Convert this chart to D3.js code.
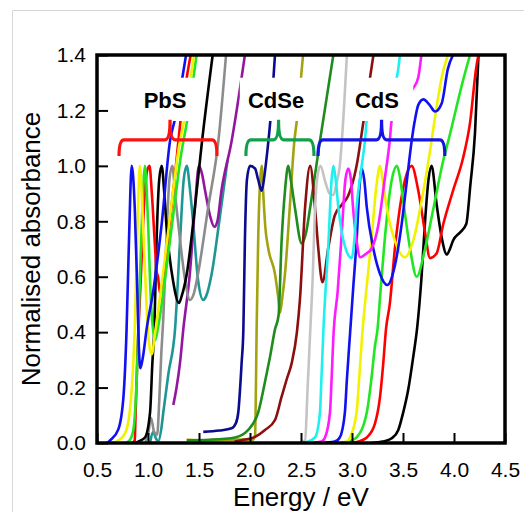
<!DOCTYPE html>
<html>
<head>
<meta charset="utf-8">
<script src="https://cdn.jsdelivr.net/npm/d3@7"></script>
<style>
  body { margin: 0; background: #fff; }
  svg text { font-family: Arial, "Liberation Sans", sans-serif; fill: #000; }
</style>
</head>
<body>
<div id="chart"></div>
<script>
// spectra: [energy eV, normalised absorbance]
const pbsBlue = [[0.60,0],[0.63,0.01],[0.71,0.05],[0.76,0.17],[0.79,0.41],[0.815,0.75],[0.84,1.0],[0.87,0.85],[0.895,0.55],[0.91,0.35],[0.925,0.27],[0.95,0.31],[0.986,0.41],[1.052,0.55],[1.134,0.79],[1.216,1.09],[1.265,1.17],[1.373,1.4]];
const pbsYellow = [[0.66,0],[0.69,0.005],[0.775,0.035],[0.82,0.11],[0.856,0.29],[0.87,0.41],[0.895,0.75],[0.92,1.0],[0.95,0.8],[0.985,0.5],[1.01,0.36],[1.036,0.32],[1.07,0.40],[1.15,0.62],[1.23,0.86],[1.30,1.06],[1.356,1.166],[1.45,1.4]];
const pbsLime = [[0.78,0],[0.82,0.01],[0.856,0.047],[0.889,0.23],[0.905,0.41],[0.935,0.75],[0.97,1.0],[1.0,0.8],[1.03,0.5],[1.069,0.37],[1.10,0.42],[1.17,0.6],[1.25,0.83],[1.32,1.03],[1.385,1.166],[1.476,1.4]];
const pbsRed = [[0.85,0],[0.87,0.01],[0.878,0.1],[0.895,0.3],[0.93,0.6],[0.96,0.85],[0.99,0.98],[1.015,1.0],[1.036,0.91],[1.07,0.70],[1.084,0.62],[1.098,0.60],[1.118,0.54],[1.145,0.58],[1.20,0.75],[1.26,0.95],[1.32,1.166],[1.418,1.4]];
const pbsBlack = [[0.88,0],[0.905,0.005],[0.97,0.02],[1.02,0.11],[1.043,0.29],[1.062,0.41],[1.084,0.73],[1.11,0.95],[1.134,1.0],[1.16,0.9],[1.18,0.79],[1.248,0.58],[1.304,0.505],[1.33,0.53],[1.38,0.61],[1.46,0.85],[1.53,1.09],[1.634,1.4]];
const pbsGray = [[0.97,0],[1.0,0.03],[1.03,0.09],[1.06,0.04],[1.09,0.03],[1.11,0.15],[1.13,0.32],[1.15,0.45],[1.18,0.73],[1.21,0.95],[1.238,1.0],[1.27,0.88],[1.297,0.79],[1.363,0.59],[1.41,0.516],[1.45,0.54],[1.49,0.61],[1.59,0.85],[1.69,1.09],[1.765,1.4]];
const pbsTeal = [[1.02,0],[1.05,0.04],[1.08,0.015],[1.10,0.005],[1.13,0.05],[1.15,0.11],[1.20,0.25],[1.265,0.41],[1.314,0.73],[1.35,0.95],[1.38,1.0],[1.41,0.92],[1.444,0.79],[1.49,0.59],[1.542,0.516],[1.57,0.53],[1.624,0.61],[1.706,0.82],[1.78,1.02]];
const pbsPurple = [[1.248,0.137],[1.28,0.2],[1.314,0.29],[1.346,0.41],[1.41,0.61],[1.46,0.85],[1.5,1.0],[1.53,0.97],[1.56,0.91],[1.608,0.82],[1.65,0.78],[1.68,0.80],[1.72,0.91],[1.82,1.09],[1.95,1.4]];

const cdseNavy = [[1.542,0.04],[1.7,0.045],[1.82,0.053],[1.86,0.07],[1.885,0.11],[1.918,0.29],[1.935,0.41],[1.95,0.73],[1.97,0.95],[2.0,1.0],[2.05,0.99],[2.08,0.95],[2.115,0.91],[2.14,0.96],[2.163,1.03],[2.20,1.166],[2.245,1.4]];
const cdseOlive = [[1.38,0.012],[1.6,0.01],[1.85,0.012],[2.03,0.012],[2.05,0.03],[2.058,0.2],[2.065,0.41],[2.08,0.73],[2.10,0.95],[2.115,1.0],[2.13,0.9],[2.15,0.78],[2.18,0.70],[2.245,0.61],[2.275,0.53],[2.294,0.47],[2.315,0.52],[2.343,0.61],[2.39,0.85],[2.435,1.09],[2.46,1.166],[2.52,1.4]];
const cdseGreen = [[1.38,0.01],[1.6,0.012],[1.853,0.02],[1.983,0.047],[2.08,0.11],[2.163,0.25],[2.196,0.31],[2.245,0.41],[2.28,0.46],[2.31,0.73],[2.343,0.91],[2.375,1.0],[2.40,0.95],[2.44,0.85],[2.507,0.72],[2.55,0.76],[2.59,0.85],[2.686,1.09],[2.817,1.4]];
const cdseLightGray = [[2.48,0],[2.54,0.01],[2.565,0.2],[2.59,0.4],[2.615,0.6],[2.635,0.82],[2.66,0.96],[2.69,1.0],[2.74,0.94],[2.78,0.9],[2.817,0.895],[2.85,0.94],[2.88,1.0],[2.92,1.2],[2.95,1.4]];
const cdseBrown = [[1.85,0.005],[1.92,0.01],[2.05,0.022],[2.147,0.047],[2.245,0.083],[2.31,0.167],[2.36,0.23],[2.41,0.29],[2.46,0.40],[2.49,0.52],[2.54,0.85],[2.59,1.0],[2.637,0.85],[2.67,0.70],[2.71,0.58],[2.77,0.71],[2.83,0.82],[2.90,0.86],[2.96,0.89],[3.045,1.0],[3.11,1.154],[3.21,1.4]];

const cdsCyan = [[2.50,0],[2.555,0.003],[2.637,0.02],[2.686,0.11],[2.70,0.23],[2.72,0.41],[2.77,0.73],[2.80,0.95],[2.817,1.0],[2.84,0.95],[2.866,0.85],[2.93,0.71],[2.997,0.667],[3.02,0.72],[3.045,0.85],[3.095,1.0],[3.127,1.09],[3.145,1.166],[3.25,1.24],[3.38,1.28],[3.44,1.32],[3.47,1.4]];
const cdsMagenta = [[2.60,0],[2.70,0.005],[2.735,0.02],[2.784,0.11],[2.80,0.23],[2.817,0.38],[2.86,0.55],[2.90,0.76],[2.935,0.95],[2.964,0.99],[2.99,0.95],[3.01,0.85],[3.045,0.73],[3.08,0.67],[3.145,0.685],[3.19,0.70],[3.26,0.79],[3.32,0.95],[3.37,1.09],[3.39,1.166],[3.50,1.24],[3.60,1.28],[3.65,1.32],[3.68,1.4]];
const cdsBlue = [[2.70,0],[2.83,0.005],[2.88,0.02],[2.93,0.11],[2.95,0.23],[2.98,0.39],[3.01,0.55],[3.045,0.73],[3.075,0.93],[3.095,0.99],[3.12,0.95],[3.145,0.85],[3.21,0.70],[3.275,0.61],[3.346,0.57],[3.42,0.64],[3.487,0.79],[3.536,0.94],[3.585,1.09],[3.617,1.166],[3.65,1.22],[3.70,1.24],[3.76,1.22],[3.814,1.196],[3.88,1.226],[3.94,1.35],[3.99,1.4]];
const cdsYellow = [[2.85,0],[2.95,0.005],[2.98,0.02],[3.045,0.11],[3.07,0.23],[3.10,0.39],[3.14,0.55],[3.19,0.73],[3.24,0.93],[3.275,1.0],[3.30,0.95],[3.34,0.85],[3.42,0.73],[3.52,0.67],[3.60,0.73],[3.70,0.91],[3.78,1.09],[3.81,1.166],[3.88,1.32],[3.94,1.4]];
const cdsLime = [[2.95,0],[3.0,0.01],[3.045,0.02],[3.145,0.11],[3.19,0.23],[3.225,0.35],[3.25,0.41],[3.28,0.55],[3.32,0.73],[3.39,0.95],[3.44,1.0],[3.47,0.96],[3.50,0.88],[3.57,0.70],[3.634,0.60],[3.716,0.70],[3.80,0.85],[3.895,1.02],[3.944,1.09],[4.09,1.31],[4.157,1.4]];
const cdsRed = [[3.0,0],[3.1,0.01],[3.145,0.02],[3.225,0.07],[3.275,0.167],[3.307,0.29],[3.333,0.41],[3.37,0.50],[3.42,0.70],[3.47,0.85],[3.52,0.95],[3.585,1.0],[3.65,0.91],[3.716,0.76],[3.765,0.667],[3.83,0.685],[3.895,0.79],[3.99,0.91],[4.09,1.03],[4.157,1.155],[4.22,1.36],[4.24,1.4]];
const cdsBlack = [[3.2,0],[3.3,0.005],[3.39,0.017],[3.454,0.047],[3.50,0.107],[3.55,0.19],[3.60,0.31],[3.64,0.42],[3.68,0.59],[3.72,0.82],[3.75,0.95],[3.78,1.0],[3.83,0.86],[3.88,0.74],[3.93,0.68],[3.96,0.70],[3.99,0.73],[4.06,0.76],[4.12,0.79],[4.16,0.93],[4.206,1.12],[4.24,1.4]];

// material groups: label, bracket span (eV), brace tip (eV), label centre (eV), masked span (eV)
const groupNames = ["PbS", "CdSe", "CdS"];
const groupSpans = [[0.716, 1.676], [1.96, 2.627], [2.667, 3.91]];
const groupTips = [1.216, 2.28, 3.29];
const groupLabelAt = [1.167, 2.255, 3.245];
const groupMasks = [[0.775, 1.53], [1.90, 2.667], [2.97, 3.6]];

const xTicks = [0.5, 1.0, 1.5, 2.0, 2.5, 3.0, 3.5, 4.0, 4.5];
const yTicks = [0, 0.2, 0.4, 0.6, 0.8, 1.0, 1.2, 1.4];

const spectra = [
  {points: pbsTeal, color: "#1f9696"},
  {points: pbsPurple, color: "#9416a0"},
  {points: pbsGray, color: "#8c8c8c"},
  {points: pbsBlack, color: "#000000"},
  {points: pbsRed, color: "#ff0000"},
  {points: pbsLime, color: "#22e622"},
  {points: pbsYellow, color: "#f2f200"},
  {points: pbsBlue, color: "#1010f0"},
  {points: cdseOlive, color: "#a3a30f"},
  {points: cdseGreen, color: "#1f8c1f"},
  {points: cdseBrown, color: "#8c0f0f"},
  {points: cdseNavy, color: "#0b0b8f"},
  {points: cdseLightGray, color: "#c4c4c4"},
  {points: cdsBlack, color: "#000000"},
  {points: cdsRed, color: "#ff0000"},
  {points: cdsLime, color: "#22e622"},
  {points: cdsYellow, color: "#f2f200"},
  {points: cdsBlue, color: "#1010f0"},
  {points: cdsMagenta, color: "#ff1aff"},
  {points: cdsCyan, color: "#1ef0f0"}
];
const braceColors = ["#ff1010", "#12a04a", "#1414e6"];

const width = 524, height = 512;
const margin = {left: 97, right: 19, top: 55, bottom: 69};
const x = d3.scaleLinear().domain([0.5, 4.5]).range([margin.left, width - margin.right]);
const y = d3.scaleLinear().domain([0, 1.4]).range([height - margin.bottom, margin.top]);

const svg = d3.select("#chart").append("svg")
  .attr("width", width)
  .attr("height", height);

// faint page border of the source figure
svg.append("path")
  .attr("d", "M12.5,512V10.5H524")
  .attr("fill", "none")
  .attr("stroke", "#d6d6d6");

svg.append("defs").append("clipPath")
  .attr("id", "plot")
  .append("rect")
  .attr("x", x(0.5)).attr("y", y(1.4))
  .attr("width", x(4.5) - x(0.5))
  .attr("height", y(0) - y(1.4));

const line = d3.line()
  .x(d => x(d[0]))
  .y(d => y(d[1]))
  .curve(d3.curveMonotoneX);

svg.append("g")
  .attr("clip-path", "url(#plot)")
  .selectAll("path")
  .data(spectra)
  .join("path")
  .attr("d", d => line(d.points))
  .attr("fill", "none")
  .attr("stroke", d => d.color)
  .attr("stroke-width", 2.6)
  .attr("stroke-linejoin", "round");

// white boxes behind the group labels
const groups = svg.append("g");
groups.selectAll("rect")
  .data(groupMasks)
  .join("rect")
  .attr("x", d => x(d[0]))
  .attr("width", d => x(d[1]) - x(d[0]))
  .attr("y", y(1.318))
  .attr("height", y(1.162) - y(1.318))
  .attr("fill", "#fff");

groups.selectAll("text")
  .data(groupNames)
  .join("text")
  .attr("x", (d, i) => x(groupLabelAt[i]))
  .attr("y", y(1.209))
  .attr("text-anchor", "middle")
  .attr("font-size", 22)
  .attr("font-weight", "bold")
  .text(d => d);

function bracePath(span, tip) {
  const x0 = x(span[0]), x1 = x(span[1]), xm = x(tip);
  const yb = y(1.094), ye = y(1.036), yt = y(1.166);
  const r = 5;
  return `M${x0},${ye}Q${x0},${yb} ${x0 + r},${yb}L${xm - 5},${yb}Q${xm},${yb} ${xm},${yt}` +
    `Q${xm},${yb} ${xm + 5},${yb}L${x1 - r},${yb}Q${x1},${yb} ${x1},${ye}`;
}

groups.selectAll("path")
  .data(groupSpans)
  .join("path")
  .attr("d", (d, i) => bracePath(d, groupTips[i]))
  .attr("fill", "none")
  .attr("stroke", (d, i) => braceColors[i])
  .attr("stroke-width", 3.2);

// axes with inward ticks
const xAxis = svg.append("g")
  .attr("transform", `translate(0,${y(0)})`)
  .call(d3.axisBottom(x).tickValues(xTicks).tickSize(-10).tickPadding(19).tickFormat(d3.format(".1f")));
const yAxis = svg.append("g")
  .attr("transform", `translate(${x(0.5)},0)`)
  .call(d3.axisLeft(y).tickValues(yTicks).tickSize(-11).tickPadding(11).tickFormat(d3.format(".1f")));

for (const axis of [xAxis, yAxis]) {
  axis.select(".domain").remove();
  axis.selectAll(".tick line").attr("stroke", "#000").attr("stroke-width", 2);
  axis.selectAll(".tick text").attr("font-size", 21).attr("fill", "#000");
}

svg.append("rect")
  .attr("x", x(0.5)).attr("y", y(1.4))
  .attr("width", x(4.5) - x(0.5))
  .attr("height", y(0) - y(1.4))
  .attr("fill", "none")
  .attr("stroke", "#000")
  .attr("stroke-width", 3.5);

svg.append("text")
  .attr("x", (x(0.5) + x(4.5)) / 2)
  .attr("y", 506)
  .attr("text-anchor", "middle")
  .attr("font-size", 26)
  .text("Energy / eV");

svg.append("text")
  .attr("transform", `translate(40,${(y(0) + y(1.4)) / 2}) rotate(-90)`)
  .attr("text-anchor", "middle")
  .attr("font-size", 26)
  .text("Normalised absorbance");
</script>
</body>
</html>
